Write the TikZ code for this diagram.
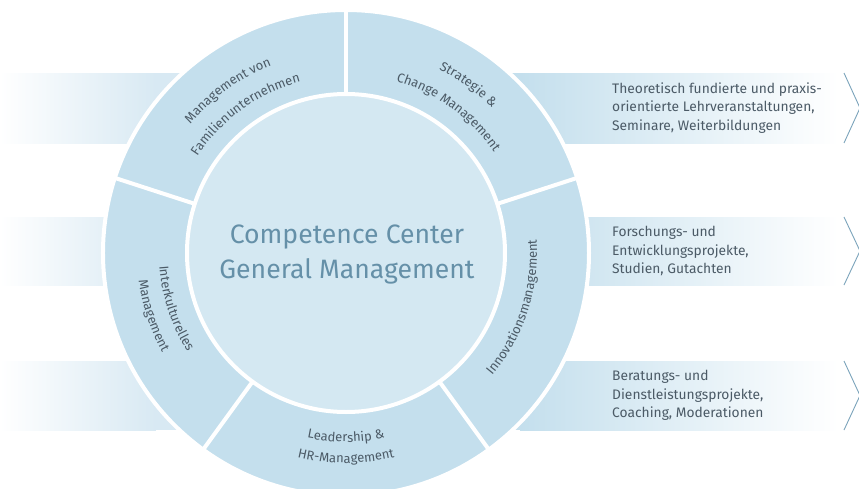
\documentclass[tikz,border=0pt]{standalone}
\usepackage{fontspec}
\setmainfont{Fira Sans}
\usetikzlibrary{decorations.text}

\definecolor{ringblue}{HTML}{C4DFED}
\definecolor{coreblue}{HTML}{D4E8F2}
\definecolor{bandblue}{HTML}{D8E9F3}
\definecolor{centertext}{HTML}{6590A8}
\definecolor{labeltext}{HTML}{4B5A66}
\definecolor{chevronblue}{HTML}{7BA3BB}

\newcommand{\ringfont}{\color{labeltext}\fontsize{13}{14}\selectfont}

\begin{document}
\begin{tikzpicture}[x=1pt, y=1pt,
    bandtext/.style={anchor=west, inner sep=0pt, align=left, text=labeltext,
      font=\fontsize{13.8}{18.5}\selectfont},
    chevron/.style={draw=chevronblue, line width=0.9pt},
    gapline/.style={draw=white, line width=4pt},
    ringlabel/.style={decorate, decoration={text along path, text align=center,
      text={|\ringfont|#1}}}]
  \useasboundingbox (-346,-235) rectangle (513,253);

  % Left bands
  \foreach \yb/\yt in {110/180, -32/36, -177/-108} {
    \shade[left color=white, right color=bandblue] (-346,\yb) rectangle (-190,\yt);
    \fill[bandblue] (-190.5,\yb) rectangle (0,\yt);
  }

  % Right bands
  \foreach \yb/\yt in {110/180, -32/36, -177/-108} {
    \fill[ringblue] (0,\yb) rectangle (174.5,\yt);
    \shade[left color=ringblue, right color=white] (174,\yb) rectangle (492,\yt);
    \draw[chevron] (498,\yt) -- (514,{(\yt+\yb)/2}) -- (498,\yb);
  }

  % Outer ring
  \fill[ringblue] (0,0) circle[radius=243pt];
  \draw[gapline] (0,0) circle[radius=243pt];
  \foreach \a in {90, 18, -54, -126, 162}
    \draw[gapline] (\a:150pt) -- (\a:246pt);

  % Core
  \fill[coreblue, draw=white, line width=4pt] (0,0) circle[radius=159pt];
  \node[align=center, text=centertext, font=\fontsize{26.6}{35}\selectfont] (core) at (1,-2)
    {Competence Center\\General Management};

  % Ring labels
  \path[ringlabel=Management von] (162:202pt) arc[start angle=162, end angle=90, radius=202pt];
  \path[ringlabel=Familienunternehmen] (162:177pt) arc[start angle=162, end angle=90, radius=177pt];
  \path[ringlabel=Strategie {\&}] (90:206pt) arc[start angle=90, end angle=18, radius=206pt];
  \path[ringlabel=Change Management] (90:179pt) arc[start angle=90, end angle=18, radius=179pt];
  \path[ringlabel=Innovationsmanagement] (-54:191pt) arc[start angle=-54, end angle=18, radius=191pt];
  \path[ringlabel=Leadership {\&}] (-126:189pt) arc[start angle=-126, end angle=-54, radius=189pt];
  \path[ringlabel=HR-Management] (-126:210pt) arc[start angle=-126, end angle=-54, radius=210pt];
  \path[ringlabel=Interkulturelles] (162:187pt) arc[start angle=162, end angle=234, radius=187pt];
  \path[ringlabel=Management] (162:209pt) arc[start angle=162, end angle=234, radius=209pt];

  % Band texts
  \node[bandtext] (lehre) at (266,145)
    {Theoretisch fundierte und praxis-\\orientierte Lehrveranstaltungen,\\Seminare, Weiterbildungen};
  \node[bandtext] (forschung) at (266,2)
    {Forschungs- und\\Entwicklungsprojekte,\\Studien, Gutachten};
  \node[bandtext] (beratung) at (266,-142.5)
    {Beratungs- und\\Dienstleistungsprojekte,\\Coaching, Moderationen};
\end{tikzpicture}
\end{document}
